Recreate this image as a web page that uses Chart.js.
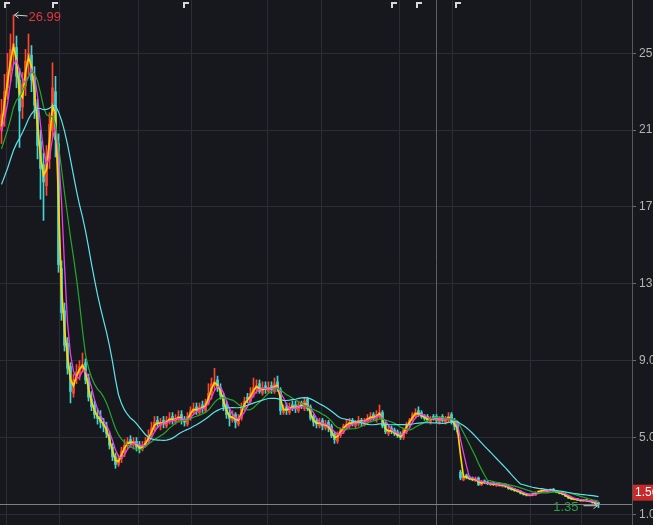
<!DOCTYPE html>
<html><head><meta charset="utf-8">
<script src="https://cdn.jsdelivr.net/npm/chart.js@4.4.1/dist/chart.umd.min.js"></script>
<style>
html,body{margin:0;padding:0;background:#16181d;overflow:hidden;width:653px;height:525px;}
#wrap{width:700px;height:525px;}
</style></head><body>
<div id="wrap"><canvas id="c" width="700" height="525"></canvas></div>
<script>
// closes before the visible window (warm-up for the moving averages)
const history=[14.5,15.2,15.0,15.8,16.5,16.2,17.0,17.6,17.2,18.0,18.5,18.2,19.0,19.6,19.3,20.0,20.5,20.2,21.0,20.6];
const open=[
21.0,21.9,23.2,24.1,25.0,25.3,23.6,22.2,23.3,24.8,
24.9,23.8,22.0,20.4,19.2,18.1,19.5,21.0,23.0,20.3,
13.8,11.6,9.9,8.7,7.3,8.1,8.3,8.6,8.9,8.1,
7.0,6.7,6.1,6.1,5.7,5.6,5.1,4.5,4.0,3.6,
3.9,4.2,4.6,4.9,4.6,4.8,4.6,4.4,4.6,4.8,
5.1,5.4,5.9,5.6,5.9,5.6,5.8,6.1,5.8,5.9,
6.2,5.9,5.7,6.0,6.3,6.6,6.3,6.7,6.4,6.8,
7.2,7.7,8.0,7.6,7.2,6.7,6.3,5.9,6.2,5.7,
6.0,6.5,7.1,6.9,7.2,7.5,7.8,7.3,7.7,7.4,
7.7,7.4,7.9,7.5,6.3,6.6,6.3,6.7,6.7,6.4,
6.8,6.5,7.0,6.6,6.1,5.9,5.6,5.9,5.5,5.8,
5.6,5.2,4.8,5.1,5.3,5.5,5.6,5.9,5.6,5.7,
5.9,5.7,5.8,5.9,6.2,5.9,6.1,6.3,5.7,5.2,
5.5,5.4,5.3,5.2,5.0,5.3,5.6,5.9,6.1,6.4,
6.3,6.1,6.1,5.8,6.1,6.1,5.8,6.1,5.8,5.9,
6.2,5.9,5.7,3.2,2.8,3.05,2.95,2.9,2.75,2.9,
2.55,2.75,2.7,2.55,2.65,2.5,2.62,2.45,2.58,2.47,
2.38,2.33,2.28,2.22,2.12,2.08,1.98,2.08,2.0,2.12,
2.18,2.28,2.18,2.22,2.32,2.22,2.18,2.12,2.06,1.97,
1.87,1.78,1.82,1.77,1.7,1.77,1.72,1.7,1.64,1.62];
const high=[
22.6,23.9,25.0,26.0,26.99,25.9,24.2,24.0,25.2,26.0,
25.4,24.3,22.6,21.0,19.8,20.2,21.9,24.5,23.8,20.8,
14.2,12.0,10.2,8.9,8.3,8.8,9.0,9.4,9.1,8.3,
7.4,6.9,6.5,6.4,6.0,5.8,5.3,4.7,4.2,4.1,
4.5,4.9,5.0,5.1,5.0,5.0,4.8,4.8,5.0,5.4,
5.8,6.1,6.1,6.0,6.1,6.1,6.3,6.3,6.2,6.4,
6.4,6.1,6.3,6.6,6.8,6.8,6.8,6.9,7.0,7.8,
8.1,8.6,8.2,7.8,7.3,6.9,6.5,6.4,6.3,6.2,
6.8,7.1,7.3,7.6,8.1,8.0,8.0,7.9,7.9,7.9,
7.9,8.1,8.2,7.6,6.7,6.8,6.8,6.9,6.9,6.9,
6.9,7.1,7.1,6.7,6.2,6.0,6.0,6.0,5.9,5.9,
5.7,5.3,5.3,5.5,5.7,5.9,6.0,6.0,5.9,6.1,
6.0,6.0,6.2,6.3,6.3,6.4,6.7,6.4,5.8,5.6,
5.6,5.5,5.4,5.3,5.5,5.8,6.0,6.3,6.5,6.6,
6.4,6.2,6.2,6.1,6.2,6.2,6.1,6.2,6.1,6.3,
6.3,6.0,5.8,3.3,3.1,3.1,3.0,2.95,2.95,2.95,
2.78,2.8,2.74,2.66,2.68,2.65,2.66,2.6,2.6,2.5,
2.42,2.36,2.3,2.24,2.15,2.1,2.08,2.1,2.18,2.25,
2.3,2.3,2.28,2.34,2.35,2.25,2.2,2.14,2.08,1.99,
1.9,1.84,1.84,1.79,1.78,1.79,1.74,1.72,1.66,1.64];
const low=[
20.3,21.2,22.6,23.5,24.4,23.2,20.1,21.6,22.8,23.9,
23.0,21.6,19.5,17.4,16.3,17.6,19.0,20.6,19.6,13.6,
11.1,9.5,8.3,6.8,7.1,7.8,8.0,8.4,7.8,6.9,
6.4,6.0,5.7,5.5,5.3,5.0,4.4,3.8,3.4,3.5,
3.7,4.0,4.4,4.5,4.4,4.3,4.2,4.3,4.5,4.7,
5.0,5.3,5.5,5.4,5.5,5.5,5.7,5.7,5.7,5.8,
5.7,5.6,5.6,5.9,6.2,6.2,6.2,6.3,6.3,6.7,
7.0,7.5,7.4,7.0,6.4,6.0,5.6,5.8,5.5,5.6,
5.9,6.4,6.8,6.8,7.1,7.3,7.3,7.2,7.3,7.3,
7.3,7.3,7.4,6.2,6.2,6.2,6.2,6.4,6.3,6.3,
6.5,6.4,6.4,5.9,5.6,5.5,5.5,5.4,5.4,5.3,
5.0,4.7,4.7,5.0,5.2,5.4,5.5,5.6,5.5,5.6,
5.6,5.6,5.7,5.8,5.9,5.8,6.0,5.5,5.2,5.1,
5.2,5.1,5.0,4.9,4.9,5.2,5.5,5.8,6.0,6.1,
6.0,5.9,5.8,5.7,5.9,5.8,5.7,5.8,5.7,5.8,
5.7,5.4,5.2,2.8,2.75,2.85,2.8,2.75,2.7,2.5,
2.5,2.6,2.55,2.5,2.5,2.45,2.47,2.42,2.4,2.3,
2.26,2.2,2.16,2.06,2.0,1.96,1.95,1.97,1.98,2.08,
2.15,2.16,2.15,2.18,2.17,2.12,2.07,2.02,1.92,1.82,
1.77,1.75,1.72,1.69,1.68,1.67,1.65,1.58,1.55,1.35];
const close=[
21.8,23.0,24.0,25.2,25.5,23.8,22.0,23.4,24.6,25.0,
23.6,22.3,20.2,19.0,18.3,19.6,21.3,23.2,20.5,14.0,
11.5,9.8,8.6,7.4,8.0,8.4,8.7,8.8,8.0,7.1,
6.6,6.2,6.0,5.8,5.6,5.2,4.6,4.0,3.6,3.9,
4.3,4.6,4.8,4.7,4.8,4.5,4.4,4.6,4.8,5.1,
5.5,5.8,5.7,5.8,5.7,5.9,6.0,5.9,6.0,6.1,
5.9,5.8,6.1,6.4,6.5,6.4,6.6,6.5,6.8,7.3,
7.8,7.9,7.6,7.2,6.6,6.2,6.0,6.1,5.8,6.0,
6.6,6.9,7.0,7.3,7.6,7.7,7.4,7.6,7.5,7.6,
7.5,7.8,7.6,6.4,6.5,6.4,6.6,6.6,6.5,6.7,
6.6,6.9,6.5,6.0,5.8,5.7,5.8,5.6,5.7,5.5,
5.1,4.9,5.2,5.4,5.6,5.7,5.8,5.7,5.8,5.9,
5.8,5.9,6.0,6.1,6.0,6.2,6.3,5.6,5.3,5.4,
5.3,5.2,5.1,5.0,5.4,5.7,5.9,6.2,6.3,6.2,
6.1,6.0,5.9,6.0,6.0,5.9,6.0,5.9,6.0,6.1,
5.8,5.6,5.3,2.9,3.0,2.9,2.85,2.8,2.85,2.55,
2.7,2.65,2.6,2.6,2.55,2.6,2.5,2.55,2.45,2.35,
2.3,2.25,2.2,2.1,2.05,2.0,2.05,2.0,2.15,2.2,
2.25,2.2,2.25,2.3,2.2,2.15,2.1,2.05,1.95,1.85,
1.8,1.8,1.75,1.72,1.75,1.7,1.68,1.62,1.6,1.56];
const yTicks=[1,5,9,13,17,21,25];
const gridIdx=[1.8,19.5,45.8,63.2,88.8,106.8,132.8,150.2,176.5,193.5];
const crossIdx=144.8;
const markerIdx=[0.7,17,60.5,129.8,138.2,151.2];

const UP='#ff4630', DOWN='#44d4d4', BG='#16181d', GRID='#2a2d33';
const maSpec=[
  {w:21,color:'#5fe3ea',width:1.2},
  {w:10,color:'#27a72a',width:1.2},
  {w:4,color:'#ee3df0',width:1.3},
  {w:2,color:'#ffd400',width:1.7}
];
const full=history.concat(close);
function ma(w){
  return close.map((_,i)=>{
    const j=i+history.length; let s=0,n=0;
    for(let k=Math.max(0,j-w+1);k<=j;k++){s+=full[k];n++;}
    return {x:i,y:s/n};
  });
}
const idx=close.map((_,i)=>i);
const colr=(i)=>close[i]>=open[i]?UP:DOWN;

const datasets=[];
maSpec.forEach((m,k)=>datasets.push({type:'line',data:ma(m.w),borderColor:m.color,borderWidth:m.width,pointRadius:0,tension:0,order:k,clip:false}));
datasets.push({type:'bar',data:idx.map(i=>({x:i,y:[Math.min(open[i],close[i]),Math.max(open[i],close[i])]})),
  backgroundColor:idx.map(colr),barThickness:2,minBarLength:1,grouped:false,order:10});
datasets.push({type:'bar',data:idx.map(i=>({x:i,y:[low[i],high[i]]})),
  backgroundColor:idx.map(colr),barThickness:1,grouped:false,order:11});

const deco={
  id:'deco',
  beforeDraw(ch){const c=ch.ctx;c.save();c.fillStyle=BG;c.fillRect(0,0,ch.width,ch.height);c.restore();},
  beforeDatasetsDraw(ch){
    const c=ch.ctx,a=ch.chartArea,xs=ch.scales.x,ys=ch.scales.y;
    c.save();
    const cx=Math.round(xs.getPixelForValue(crossIdx))+0.5;
    c.strokeStyle='#5a5d63';c.lineWidth=1;
    c.beginPath();c.moveTo(cx,a.top);c.lineTo(cx,a.bottom);c.stroke();
    const ly=Math.round(ys.getPixelForValue(close[close.length-1]))+0.5;
    c.strokeStyle='#7c7f84';
    c.beginPath();c.moveTo(a.left,ly);c.lineTo(a.right,ly);c.stroke();
    c.restore();
  },
  afterDraw(ch){
    const c=ch.ctx,a=ch.chartArea,xs=ch.scales.x,ys=ch.scales.y;
    c.save();
    // top markers
    c.fillStyle='#d9d9d9';
    markerIdx.forEach(m=>{const x=Math.round(xs.getPixelForValue(m));c.fillRect(x,2,2,6);c.fillRect(x,2,6,2);});
    // max annotation
    let hi=0;high.forEach((v,i)=>{if(v>high[hi])hi=i;});
    const hx=xs.getPixelForValue(hi),hy=ys.getPixelForValue(high[hi]);
    c.strokeStyle='#d0d0d0';c.lineWidth=1;
    c.beginPath();c.moveTo(hx+1,hy);c.lineTo(hx+14,hy+1);c.moveTo(hx+1,hy);c.lineTo(hx+5,hy-3);c.moveTo(hx+1,hy);c.lineTo(hx+5,hy+3);c.stroke();
    c.font='13px "Liberation Sans", Arial, sans-serif';c.textBaseline='middle';c.textAlign='left';
    c.fillStyle='#e0393e';c.fillText(high[hi].toFixed(2),hx+15,hy+2);
    // min annotation
    let lo=0;low.forEach((v,i)=>{if(v<low[lo])lo=i;});
    const lx=xs.getPixelForValue(lo),lyy=ys.getPixelForValue(low[lo]);
    c.strokeStyle='#d0d0d0';
    c.beginPath();c.moveTo(lx-15,lyy-2);c.lineTo(lx-1,lyy-2);c.moveTo(lx-1,lyy-2);c.lineTo(lx-5,lyy-5);c.moveTo(lx-1,lyy-2);c.lineTo(lx-5,lyy+1);c.stroke();
    c.textAlign='right';c.fillStyle='#2e9b4c';c.fillText(low[lo].toFixed(2),lx-20,lyy);
    // last price box
    const last=close[close.length-1];
    const py=ys.getPixelForValue(last)-11;
    c.fillStyle='#c62a2a';c.fillRect(a.right+1,py-8,60,16);
    c.fillStyle='#ffffff';c.textAlign='left';c.font='12px "Liberation Sans", Arial, sans-serif';
    c.fillText(last.toFixed(2),a.right+3,py);
    c.restore();
  }
};

new Chart(document.getElementById('c'),{
  type:'bar',
  data:{datasets},
  options:{
    responsive:false,devicePixelRatio:1,animation:false,
    layout:{padding:0,autoPadding:false},
    plugins:{legend:{display:false},tooltip:{enabled:false}},
    scales:{
      x:{type:'linear',min:-0.5,max:210.17,offset:false,
        afterBuildTicks(s){s.ticks=gridIdx.map(v=>({value:v}));},
        afterFit(s){s.height=0;s.paddingLeft=0;s.paddingRight=0;},
        ticks:{display:false},grid:{color:GRID,drawTicks:false,offset:false},border:{display:false}},
      y:{type:'linear',position:'right',min:0.45,max:27.77,
        afterBuildTicks(s){s.ticks=yTicks.map(v=>({value:v}));},
        afterFit(s){s.width=68;s.paddingTop=0;s.paddingBottom=0;},
        ticks:{color:'#b4b4b4',font:{family:'"Liberation Sans", Arial, sans-serif',size:12},padding:3,
          callback:v=>Number(v).toFixed(2)},
        grid:{color:GRID,tickColor:'#6a6d72',tickLength:4},
        border:{color:'#55585d'}}
    }
  },
  plugins:[deco]
});
</script></body></html>
